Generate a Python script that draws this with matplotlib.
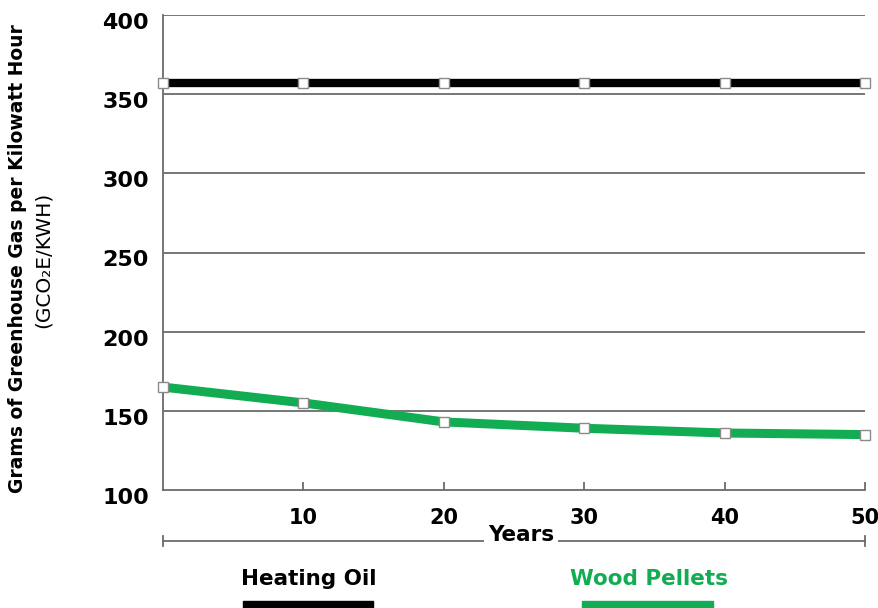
import matplotlib.pyplot as plt
import matplotlib.transforms as mtransforms
from matplotlib.patches import Rectangle

# data
years = [0, 10, 20, 30, 40, 50]
heating_oil = [357, 357, 357, 357, 357, 357]
wood_pellets = [165, 155, 143, 139, 136, 135]
yticks = [100, 150, 200, 250, 300, 350, 400]
xticks = [10, 20, 30, 40, 50]

GREEN = '#12ad52'
GRID = '#6b6b6b'

plt.rcParams['font.family'] = ['DejaVu Sans']

fig = plt.figure(figsize=(8.79, 6.08), dpi=100)
ax = fig.add_axes([163/879, 1-490/608, (865-163)/879, (490-15)/608])

ax.set_xlim(0, 50)
ax.set_ylim(100, 400)

# grid lines
for v in yticks[1:]:
    ax.axhline(v, color=GRID, lw=1.3, zorder=1)

for s in ['top', 'right']:
    ax.spines[s].set_visible(False)
for s in ['left', 'bottom']:
    ax.spines[s].set_color(GRID)
    ax.spines[s].set_linewidth(1.3)

mk = dict(marker='s', markersize=6.5, markerfacecolor='white',
          markeredgecolor='#8a8a8a', markeredgewidth=1, clip_on=False)
ax.plot(years, heating_oil, color='black', lw=6, zorder=3, **mk)
ax.plot(years, wood_pellets, color=GREEN, lw=6.5, zorder=3, **mk)

ax.set_yticks(yticks)
ax.set_yticklabels([str(v) for v in yticks], fontsize=16, fontweight='bold')
ax.tick_params(axis='y', length=0, pad=10)
off = mtransforms.ScaledTranslation(0, -6/100, fig.dpi_scale_trans)
for lab in ax.get_yticklabels():
    lab.set_transform(lab.get_transform() + off)

ax.set_xticks(xticks)
ax.set_xticklabels([str(v) for v in xticks], fontsize=15, fontweight='bold')
ax.tick_params(axis='x', direction='in', length=6, width=1.3, color=GRID, pad=13)

# "Years" bracket under the axis
tr = mtransforms.blended_transform_factory(ax.transData, ax.transAxes)
by = -0.107
ax.plot([0, 50], [by, by], color=GRID, lw=1.3, transform=tr, clip_on=False)
for xe in [0, 50]:
    ax.plot([xe, xe], [by - 0.011, by + 0.011], color=GRID, lw=1.3,
            transform=tr, clip_on=False)
ax.text(25.5, by + 0.012, 'Years', transform=tr, ha='center', va='center',
        fontsize=15.5, fontweight='bold',
        bbox=dict(facecolor='white', edgecolor='none', pad=3))

# y label
fig.text(18/879, 1-259/608, 'Grams of Greenhouse Gas per Kilowatt Hour',
         rotation=90, ha='center', va='center', fontsize=13.5, fontweight='bold')
fig.text(43/879, 1-260/608, '(GCO\u2082E/KWH)', rotation=90, ha='center',
         va='center', fontsize=14.5)

# legend
fig.text(309/879, 1-579/608, 'Heating Oil', ha='center', va='center',
         fontsize=15.5, fontweight='bold', color='black')
fig.text(649/879, 1-579/608, 'Wood Pellets', ha='center', va='center',
         fontsize=15.5, fontweight='bold', color=GREEN)
fig.add_artist(Rectangle((243/879, 0), 130/879, 7/608,
                         transform=fig.transFigure, color='black'))
fig.add_artist(Rectangle((582/879, 0), 131/879, 7/608,
                         transform=fig.transFigure, color=GREEN))

fig.savefig('out.png', dpi=100)
